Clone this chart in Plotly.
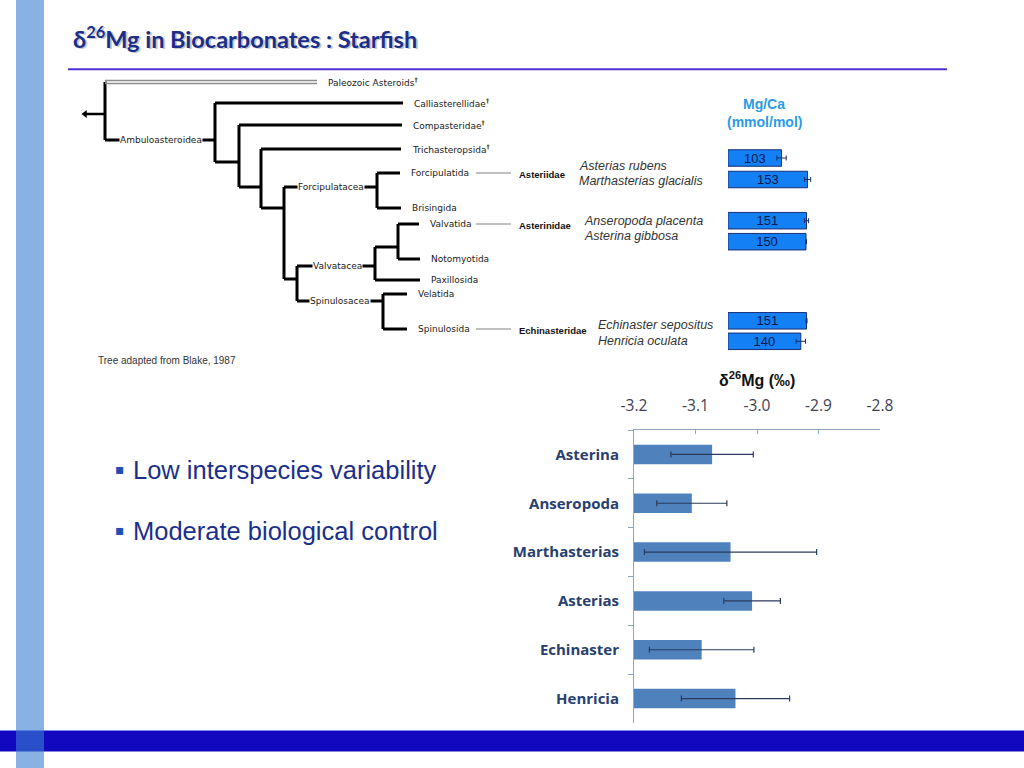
import plotly.graph_objects as go

W, H = 1024, 768

# ---------------- main chart data (delta 26Mg) ----------------
species = ["Asterina", "Anseropoda", "Marthasterias", "Asterias", "Echinaster", "Henricia"]
d26mg = [-3.073, -3.106, -3.043, -3.008, -3.090, -3.035]
d26mg_err = [0.067, 0.057, 0.140, 0.046, 0.085, 0.088]
x_ticks = [-3.2, -3.1, -3.0, -2.9, -2.8]
x_tick_labels = ["-3.2", "-3.1", "-3.0", "-2.9", "-2.8"]
bar_base = -3.2

# ---------------- Mg/Ca data ----------------
mgca_species = ["Asterias rubens", "Marthasterias glacialis", "Anseropoda placenta",
                "Asterina gibbosa", "Echinaster sepositus", "Henricia oculata"]
mgca = [103, 153, 151, 150, 151, 140]
mgca_err = [9, 6, 4, 1, 1, 9]
mgca_row = [158, 179.5, 220.7, 241.7, 320.8, 341.3]
species_row = [166, 181, 221, 236, 325, 341]
species_col = [577, 577, 582, 582, 596, 596]

# ---------------- tree (Blake, 1987) ----------------
node_name = ["root", "Paleozoic Asteroids", "Ambuloasteroidea", "Calliasterellidae", "n1",
             "Compasteridae", "n2", "Trichasteropsida", "n3", "Forcipulatacea",
             "Forcipulatida", "Brisingida", "n4", "Valvatacea", "n5", "Valvatida",
             "Notomyotida", "Paxillosida", "Spinulosacea", "Velatida", "Spinulosida"]
node_parent = [None, "root", "root", "Ambuloasteroidea", "Ambuloasteroidea",
               "n1", "n1", "n2", "n2", "n3",
               "Forcipulatacea", "Forcipulatacea", "n3", "n4", "Valvatacea", "n5",
               "n5", "Valvatacea", "n4", "Spinulosacea", "Spinulosacea"]
node_depth = [105, 317, 215, 403, 239, 402, 261, 401, 284, 377,
              400, 401, 297, 375, 398, 419, 420, 420, 383, 407, 407]
node_row = [114, 82, 140, 103, 162, 125, 187, 149, 208, 187,
            173, 208, 279, 266, 247, 224, 259, 280, 301, 294, 329]
extinct = ["Paleozoic Asteroids", "Calliasterellidae", "Compasteridae", "Trichasteropsida"]
inline_labels = ["Ambuloasteroidea", "Forcipulatacea", "Valvatacea", "Spinulosacea"]
root_tip = 82

family_name = ["Asteriidae", "Asterinidae", "Echinasteridae"]
family_leaf = ["Forcipulatida", "Valvatida", "Spinulosida"]

idx = {n: i for i, n in enumerate(node_name)}

fig = go.Figure()

# ---------- tree segments ----------
hx, hy = [], []
for i, n in enumerate(node_name):
    p = node_parent[i]
    if p is None or n == "Paleozoic Asteroids":
        continue
    j = idx[p]
    hx += [node_depth[j], node_depth[i], None]
    hy += [node_row[i], node_row[i], None]
for i, n in enumerate(node_name):
    kids = [k for k, p in enumerate(node_parent) if p == n]
    if kids:
        ys = [node_row[k] for k in kids]
        hx += [node_depth[i], node_depth[i], None]
        hy += [min(ys), max(ys), None]

fig.add_trace(go.Scatter(x=hx, y=hy, mode="lines", xaxis="x2", yaxis="y2",
                         line=dict(color="black", width=3), hoverinfo="skip",
                         showlegend=False))
# Paleozoic double line
pi = idx["Paleozoic Asteroids"]
fig.add_trace(go.Scatter(x=[node_depth[0], node_depth[pi]], y=[node_row[pi]] * 2,
                         mode="lines", xaxis="x2", yaxis="y2",
                         line=dict(color="#8c8c8c", width=4.5), hoverinfo="skip", showlegend=False))
fig.add_trace(go.Scatter(x=[node_depth[0] + 2, node_depth[pi]], y=[node_row[pi]] * 2,
                         mode="lines", xaxis="x2", yaxis="y2",
                         line=dict(color="white", width=1.3), hoverinfo="skip", showlegend=False))
# root stem with arrow
fig.add_trace(go.Scatter(x=[node_depth[0], root_tip + 3], y=[node_row[0]] * 2,
                         mode="lines", xaxis="x2", yaxis="y2",
                         line=dict(color="black", width=2.5), hoverinfo="skip", showlegend=False))
fig.add_trace(go.Scatter(x=[root_tip + 3], y=[node_row[0]], mode="markers", xaxis="x2", yaxis="y2",
                         marker=dict(symbol="triangle-left", size=7, color="black"),
                         hoverinfo="skip", showlegend=False))

# family connector lines
fx, fy = [], []
for leaf in family_leaf:
    r = node_row[idx[leaf]]
    fx += [476, 511, None]
    fy += [r, r, None]
fig.add_trace(go.Scatter(x=fx, y=fy, mode="lines", xaxis="x2", yaxis="y2",
                         line=dict(color="#808080", width=1), hoverinfo="skip", showlegend=False))

annotations = []
tree_font = dict(family="DejaVu Sans", size=9, color="#1a1a1a")
dagger = "<sup><b><span style='color:#4a4a00'>\u2020</span></b></sup>"
for i, n in enumerate(node_name):
    kids = [k for k, p in enumerate(node_parent) if p == n]
    if not kids:
        txt = n + (dagger if n in extinct else "")
        annotations.append(dict(x=node_depth[i] + 9, y=node_row[i], xref="x2", yref="y2",
                                text=txt, showarrow=False, xanchor="left", yanchor="middle",
                                font=tree_font))
    elif n in inline_labels:
        annotations.append(dict(x=node_depth[i] - 12, y=node_row[i], xref="x2", yref="y2",
                                text=n, showarrow=False, xanchor="right", yanchor="middle",
                                font=tree_font, bgcolor="white", borderpad=0))

for fam, leaf in zip(family_name, family_leaf):
    annotations.append(dict(x=517, y=node_row[idx[leaf]] + 1, xref="x2", yref="y2",
                            text="<b>" + fam + "</b>", showarrow=False, xanchor="left",
                            yanchor="middle",
                            font=dict(family="Liberation Sans", size=9.5, color="#111111")))
for sp, r, c in zip(mgca_species, species_row, species_col):
    annotations.append(dict(x=c, y=r, xref="x2", yref="y2", text="<i>" + sp + "</i>",
                            showarrow=False, xanchor="left", yanchor="middle",
                            font=dict(family="Liberation Sans", size=12.5, color="#333333")))

annotations.append(dict(x=96, y=360, xref="x2", yref="y2", text="Tree adapted from Blake, 1987",
                        showarrow=False, xanchor="left", yanchor="middle",
                        font=dict(family="Liberation Sans", size=10, color="#333333")))

# ---------- Mg/Ca bars ----------
fig.add_trace(go.Bar(y=mgca_row, x=mgca, orientation="h", xaxis="x3", yaxis="y2", width=16.5,
                     marker=dict(color="#1380f5", line=dict(color="#1a2f7a", width=1)),
                     text=[str(v) for v in mgca], textposition="inside", insidetextanchor="middle",
                     constraintext="none",
                     textfont=dict(family="Liberation Sans", size=13, color="#081848"),
                     error_x=dict(type="data", array=mgca_err, color="#1a2f6a", thickness=1, width=2.5),
                     hoverinfo="skip", showlegend=False))
annotations.append(dict(x=764, y=104, xref="x2", yref="y2", text="<b>Mg/Ca</b>", showarrow=False,
                        xanchor="center", yanchor="middle",
                        font=dict(family="Liberation Sans", size=14, color="#2a9be6")))
annotations.append(dict(x=764, y=122, xref="x2", yref="y2", text="<b>(mmol/mol)</b>", showarrow=False,
                        xanchor="center", yanchor="middle",
                        font=dict(family="Liberation Sans", size=14, color="#2a9be6")))

# ---------- main d26Mg bar chart ----------
fig.add_trace(go.Bar(y=species, x=[v - bar_base for v in d26mg], base=bar_base, orientation="h",
                     width=0.4, marker=dict(color="#4f81bd", line=dict(width=0)),
                     hoverinfo="skip", showlegend=False))
fig.add_trace(go.Scatter(y=species, x=d26mg, mode="markers", marker=dict(opacity=0),
                         error_x=dict(type="data", array=d26mg_err, color="#2b3b5c",
                                      thickness=1.2, width=3),
                         hoverinfo="skip", showlegend=False))

annotations.append(dict(x=757, y=379, xref="x2", yref="y2", xanchor="center", yanchor="middle",
                        text="<b>\u03b4<sup>26</sup>Mg (\u2030)</b>", showarrow=False,
                        font=dict(family="Liberation Sans", size=16, color="#111111")))

# ---------- slide texts ----------
title = "<b>\u03b4<sup>26</sup>Mg in Biocarbonates : Starfish</b>"
annotations.append(dict(x=72.5, y=38.5, xref="x2", yref="y2", xanchor="left", yanchor="middle",
                        text=title, showarrow=False,
                        font=dict(family="Lato", size=23.5, color="rgba(0,0,0,0.22)")))
annotations.append(dict(x=71, y=37, xref="x2", yref="y2", xanchor="left", yanchor="middle",
                        text=title, showarrow=False,
                        font=dict(family="Lato", size=23.5, color="#1a2e8a")))
for txt, yy in [("Low interspecies variability", 470), ("Moderate biological control", 531)]:
    annotations.append(dict(x=120, y=yy - 1, xref="x2", yref="y2", xanchor="center",
                            yanchor="middle", text="\u25aa", showarrow=False,
                            font=dict(family="DejaVu Sans", size=14, color="#1f4fb5")))
    annotations.append(dict(x=131, y=yy, xref="x2", yref="y2", xanchor="left", yanchor="middle",
                            text=txt, showarrow=False,
                            font=dict(family="Liberation Sans", size=25.5, color="#1a2f8c")))

shapes = [
    dict(type="rect", xref="x2", yref="y2", x0=0, x1=W, y0=730, y1=751.5,
         fillcolor="#1208c0", line=dict(width=0), layer="below"),
    dict(type="line", xref="x2", yref="y2", x0=0, x1=W, y0=730.5, y1=730.5,
         line=dict(color="#7b86e8", width=1), layer="below"),
    dict(type="rect", xref="x2", yref="y2", x0=16, x1=44, y0=0, y1=H,
         fillcolor="rgba(58,127,210,0.6)", line=dict(width=0), layer="below"),
    dict(type="line", xref="x2", yref="y2", x0=68, x1=947, y0=69.3, y1=69.3,
         line=dict(color="#5030d0", width=2), layer="below"),
]

axis_col = "#8da6c6"
fig.update_layout(
    width=W, height=H, autosize=False, margin=dict(l=0, r=0, t=0, b=0, pad=0),
    paper_bgcolor="white", plot_bgcolor="rgba(0,0,0,0)",
    showlegend=False, barmode="overlay",
    xaxis=dict(domain=[634 / W, 880 / W], range=[-3.2, -2.8], side="top", anchor="y",
               tickvals=x_ticks, ticktext=x_tick_labels, ticks="inside", ticklen=4,
               tickcolor=axis_col, showline=True, linecolor=axis_col, linewidth=1,
               showgrid=False, zeroline=False, ticklabelstandoff=12, automargin=False,
               tickfont=dict(family="Open Sans", size=15.5, color="#3e3e50")),
    yaxis=dict(domain=[1 - 723 / H, 1 - 430 / H], type="category", categoryorder="array",
               categoryarray=species, autorange="reversed", anchor="x",
               tickson="boundaries", ticks="outside", ticklen=5, tickcolor=axis_col,
               showline=True, linecolor=axis_col, linewidth=1, showgrid=False,
               zeroline=False, ticklabelstandoff=11, automargin=False,
               tickfont=dict(family="Open Sans", size=15, color="#27406e", weight="bold")),
    xaxis2=dict(domain=[0, 1], range=[0, W], visible=False, fixedrange=True, anchor="y2",
                automargin=False),
    yaxis2=dict(domain=[0, 1], range=[H, 0], visible=False, fixedrange=True, anchor="x2",
                automargin=False),
    xaxis3=dict(domain=[728 / W, 858 / W], range=[0, 250], visible=False, fixedrange=True,
                anchor="y2", automargin=False),
    annotations=annotations, shapes=shapes,
)

post = ("document.body.style.margin='0';document.body.style.overflow='hidden';")
fig.write_html("out.html", config={"responsive": False, "displayModeBar": False},
               post_script=post)
